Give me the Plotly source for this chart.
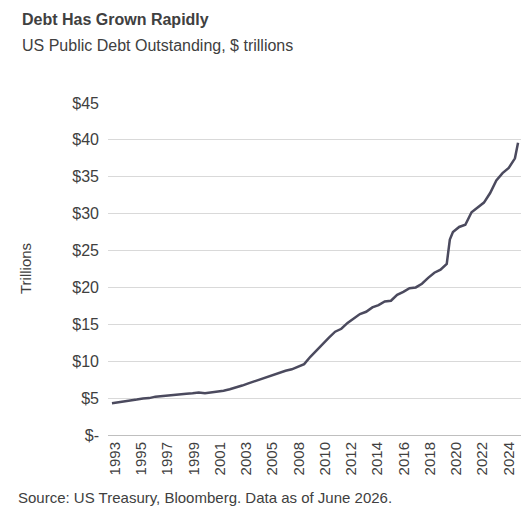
import plotly.graph_objects as go

dates = ["1993-01-01","1993-07-01","1994-01-01","1994-07-01","1995-01-01","1995-07-01","1996-01-01","1996-07-01",
"1997-01-01","1997-07-01","1998-01-01","1998-07-01","1999-01-01","1999-07-01","2000-01-01","2000-07-01",
"2001-01-01","2001-07-01","2002-01-01","2002-07-01","2003-01-01","2003-07-01","2004-01-01","2004-07-01",
"2005-01-01","2005-07-01","2006-01-01","2006-07-01","2007-01-01","2007-07-01","2008-01-01","2008-07-01",
"2009-01-01","2009-07-01","2010-01-01","2010-07-01","2011-01-01","2011-07-01","2012-01-01","2012-07-01",
"2013-01-01","2013-07-01","2014-01-01","2014-07-01","2015-01-01","2015-07-01","2016-01-01","2016-07-01",
"2017-01-01","2017-07-01","2018-01-01","2018-07-01","2019-01-01","2019-07-01","2020-01-01","2020-04-01",
"2020-07-01","2021-01-01","2021-07-01","2022-01-01","2022-07-01","2023-01-01","2023-07-01","2024-01-01",
"2024-07-01","2025-01-01","2025-07-01","2025-10-01"]
debt = [4.3,4.4,4.5,4.65,4.8,4.95,5.0,5.2,5.3,5.4,5.45,5.5,5.6,5.65,5.75,5.65,5.75,5.8,6.0,6.2,6.4,6.7,7.0,7.3,7.6,7.9,8.2,8.4,8.7,8.9,9.2,9.6,10.6,11.5,12.3,13.2,14.0,14.4,15.2,15.8,16.4,16.7,17.3,17.6,18.1,18.2,19.0,19.4,19.9,20.0,20.5,21.3,22.0,22.4,23.2,26.5,27.5,28.2,28.5,30.2,30.9,31.5,32.8,34.5,35.5,36.2,37.5,39.6]

tick_labels = ["1993","1995","1997","1999","2001","2003","2005","2008","2010","2012",
               "2014","2016","2018","2020","2022","2024"]
y_vals = [0,5,10,15,20,25,30,35,40,45]
y_text = ["$-"] + ["$%d" % v for v in y_vals[1:]]

def frac_year(s):
    y, m, _ = s.split("-")
    return int(y) + (int(m) - 1) / 12.0

xs = [frac_year(d) for d in dates]
n = len(tick_labels)
t0, t1 = 1993.24, 2025.0
tick_pos = [t0 + i * (t1 - t0) / (n - 1) for i in range(n)]

fig = go.Figure(go.Scatter(x=xs, y=debt, mode="lines",
                           line=dict(color="#4b4a5e", width=2.5)))
fig.update_layout(
    width=529, height=529, plot_bgcolor="white", paper_bgcolor="white",
    margin=dict(l=100, r=14, t=95, b=102), showlegend=False,
    font=dict(family="Liberation Sans, Arial", color="#404040", size=15),
    annotations=[
        dict(text="<b>Debt Has Grown Rapidly</b>", x=-0.213, y=1.253, xref="paper", yref="paper",
             xanchor="left", yanchor="middle", showarrow=False, font=dict(size=16, color="#404040")),
        dict(text="US Public Debt Outstanding, $ trillions", x=-0.213, y=1.172, xref="paper", yref="paper",
             xanchor="left", yanchor="middle", showarrow=False, font=dict(size=16, color="#404040")),
        dict(text="Source: US Treasury, Bloomberg. Data as of June 2026.", x=-0.222, y=-0.187,
             xref="paper", yref="paper", xanchor="left", yanchor="middle", showarrow=False,
             font=dict(size=15, color="#404040")),
        dict(text="Trillions", x=-0.2, y=0.5, xref="paper", yref="paper", textangle=-90,
             xanchor="center", yanchor="middle", showarrow=False, font=dict(size=15, color="#404040")),
    ]
)
fig.update_xaxes(range=[1992.68, 2026.15], tickvals=tick_pos, ticktext=tick_labels,
                 tickangle=-90, showgrid=False, showline=True, linecolor="#bfbfbf",
                 ticks="", tickfont=dict(size=15), automargin=False, zeroline=False)
fig.update_yaxes(range=[0,45], tickvals=y_vals, ticktext=y_text, showgrid=True, gridcolor="#d9d9d9",
                 zeroline=False, tickfont=dict(size=16), ticklabelstandoff=8, automargin=False)
fig.write_html("out.html")
